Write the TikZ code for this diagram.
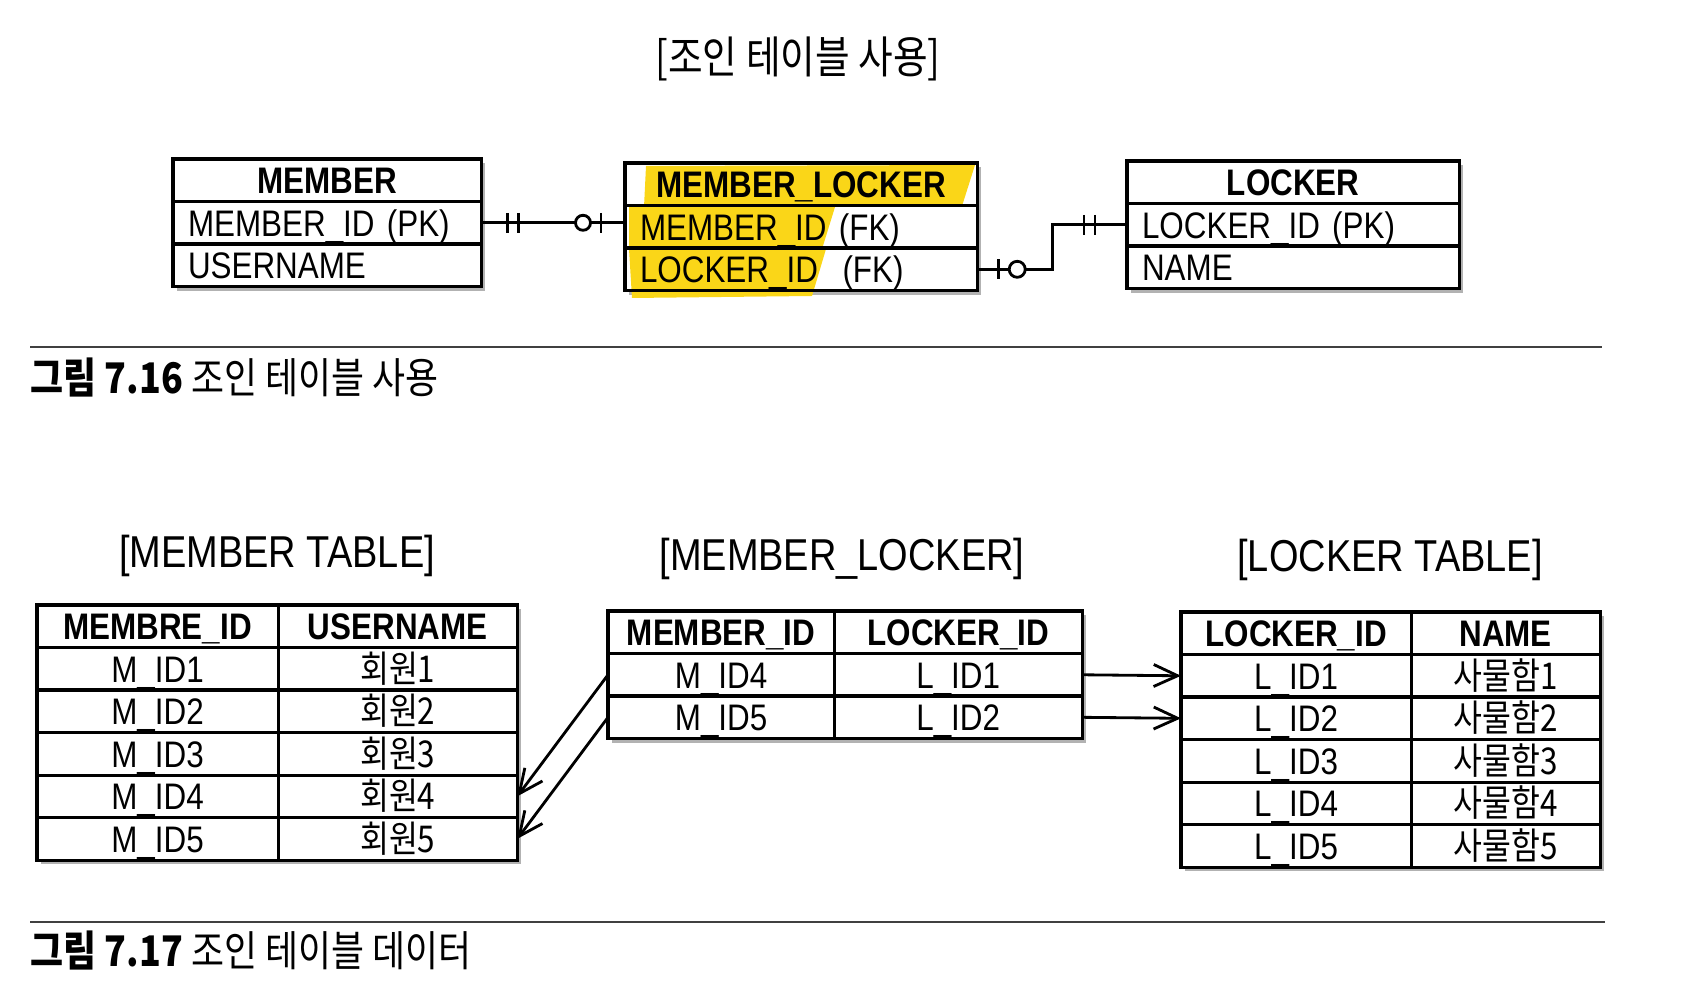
\documentclass[tikz,border=0pt]{standalone}
\usepackage{fontspec}
\setmainfont{Liberation Sans}[FakeStretch=0.85]
\newfontfamily\kr{Noto Sans CJK KR}[FakeStretch=0.85]
\usetikzlibrary{arrows.meta,backgrounds,calc,positioning}

\definecolor{marker}{RGB}{250,214,24}

\tikzset{
  tcell/.style={ draw, line width=0.9pt, anchor=north west, inner sep=0pt, outer sep=0pt,
    minimum height=4.25mm, text height=3mm, text depth=0.3mm,
    font=\fontsize{10.5}{12}\selectfont }
}
\tikzset{
  hcell/.style={ tcell, font=\fontsize{10.5}{12}\selectfont\bfseries }
}
\tikzset{
  erow/.style={ tcell, align=left, inner xsep=1.5mm }
}
\tikzset{
  crow/.style={ draw, line width=0.8pt }
}
\tikzset{
  tabtitle/.style={ font=\fontsize{12.7}{14}\selectfont }
}
\tikzset{
  caption/.style={ anchor=west, inner sep=0pt, font=\kr\fontsize{12}{14}\selectfont }
}
\newcommand{\tabback}[2]{%
  \fill[black!30] ($(#1)+(4,4)$) rectangle ($(#2)+(4,4)$);
  \fill[white] (#1) rectangle (#2);}

\begin{document}
\begin{tikzpicture}[x=0.01cm, y=-0.01cm, >={Straight Barb[length=2.4mm, width=2.2mm]}]
  \useasboundingbox (0,0) rectangle (1692,983);

  \node (title) at (798,59) {\kr\fontsize{12.6}{14}\selectfont [조인 테이블 사용]};

  % entities
  \node[hcell, minimum width=3.08cm] (mem) at (173,159) {MEMBER};
  \node[erow, text width=2.78cm] (mem1) at (mem.south west) {MEMBER\_ID (PK)};
  \node[erow, text width=2.78cm] (mem2) at (mem1.south west) {USERNAME};

  \node[hcell, minimum width=3.52cm] (ml) at (625,163) {MEMBER\_LOCKER};
  \node[erow, text width=3.22cm] (ml1) at (ml.south west) {MEMBER\_ID (FK)};
  \node[erow, text width=3.22cm] (ml2) at (ml1.south west) {LOCKER\_ID\ \ (FK)};

  \node[hcell, minimum width=3.32cm] (lk) at (1127,161) {LOCKER};
  \node[erow, text width=3.02cm] (lk1) at (lk.south west) {LOCKER\_ID (PK)};
  \node[erow, text width=3.02cm] (lk2) at (lk1.south west) {NAME};

  \begin{scope}[on background layer]
    \tabback{mem.north west}{mem2.south east}
    \tabback{ml.north west}{ml2.south east}
    \tabback{lk.north west}{lk2.south east}
    \fill[marker] (646,166) -- (975,165) -- (962,206) -- (644,207) -- cycle;
    \fill[marker] (629,207) -- (835,207) -- (822,249) -- (629,249) -- cycle;
    \fill[marker] (629,249) -- (826,249) -- (812,296) -- (632,298) -- cycle;
  \end{scope}

  % relations
  \draw[crow] (mem1.east) -- (mem1.east -| ml1.west);
  \draw[crow] ($(mem1.east)+(26,-10)$) -- ++(0,20);
  \draw[crow] ($(mem1.east)+(37,-10)$) -- ++(0,20);
  \draw[crow] ($(mem1.east -| ml1.west)+(-24,-10)$) -- ++(0,20);
  \draw[crow, fill=white] ($(mem1.east -| ml1.west)+(-42,0)$) circle[radius=0.75mm];

  \coordinate (bend) at ($(ml2.east)+(75,0)$);
  \draw[crow] (ml2.east) -- (bend) |- (lk1.west);
  \draw[crow] ($(ml2.east)+(21,-10)$) -- ++(0,20);
  \draw[crow, fill=white] ($(ml2.east)+(40,0)$) circle[radius=0.8mm];
  \draw[crow] ($(lk1.west)+(-43,-10)$) -- ++(0,20);
  \draw[crow] ($(lk1.west)+(-32,-10)$) -- ++(0,20);

  \draw[black!75, line width=0.6pt] (30,347) -- (1602,347);
  \node[caption] (cap1) at (30,378) {{\bfseries 그림 7.16} 조인 테이블 사용};

  % data tables
  \node[tabtitle] (mtt) at (277,556) {[MEMBER TABLE]};
  \node[hcell, minimum width=2.41cm] (mt-0-1) at (37,605) {MEMBRE\_ID};
  \node[hcell, minimum width=2.39cm] (mt-0-2) at (mt-0-1.north east) {USERNAME};
  \foreach \i [count=\p from 0] in {1,...,5} {
    \node[tcell, minimum width=2.41cm] (mt-\i-1) at (mt-\p-1.south west) {M\_ID\i};
    \node[tcell, minimum width=2.39cm] (mt-\i-2) at (mt-\i-1.north east) {\kr 회원\i};
  }

  \node[tabtitle] (mltt) at (842,559) {[MEMBER\_LOCKER]};
  \node[hcell, minimum width=2.26cm] (mlt-0-1) at (608,611) {MEMBER\_ID};
  \node[hcell, minimum width=2.48cm] (mlt-0-2) at (mlt-0-1.north east) {LOCKER\_ID};
  \foreach \m/\l [count=\i, count=\p from 0] in {4/1,5/2} {
    \node[tcell, minimum width=2.26cm] (mlt-\i-1) at (mlt-\p-1.south west) {M\_ID\m};
    \node[tcell, minimum width=2.48cm] (mlt-\i-2) at (mlt-\i-1.north east) {L\_ID\l};
  }

  \node[tabtitle] (ltt) at (1390,560) {[LOCKER TABLE]};
  \node[hcell, minimum width=2.30cm] (lt-0-1) at (1181,612) {LOCKER\_ID};
  \node[hcell, minimum width=1.89cm] (lt-0-2) at (lt-0-1.north east) {NAME};
  \foreach \i [count=\p from 0] in {1,...,5} {
    \node[tcell, minimum width=2.30cm] (lt-\i-1) at (lt-\p-1.south west) {L\_ID\i};
    \node[tcell, minimum width=1.89cm] (lt-\i-2) at (lt-\i-1.north east) {\kr 사물함\i};
  }

  \begin{scope}[on background layer]
    \tabback{mt-0-1.north west}{mt-5-2.south east}
    \tabback{mlt-0-1.north west}{mlt-2-2.south east}
    \tabback{lt-0-1.north west}{lt-5-2.south east}
  \end{scope}

  \draw[->, crow] (mlt-1-1.west) -- (mt-4-2.east);
  \draw[->, crow] (mlt-2-1.west) -- (mt-5-2.east);
  \draw[->, crow] (mlt-1-2.east) -- (lt-1-1.west);
  \draw[->, crow] (mlt-2-2.east) -- (lt-2-1.west);

  \draw[black!75, line width=0.6pt] (30,922) -- (1605,922);
  \node[caption] (cap2) at (30,950) {{\bfseries 그림 7.17} 조인 테이블 데이터};
\end{tikzpicture}
\end{document}
